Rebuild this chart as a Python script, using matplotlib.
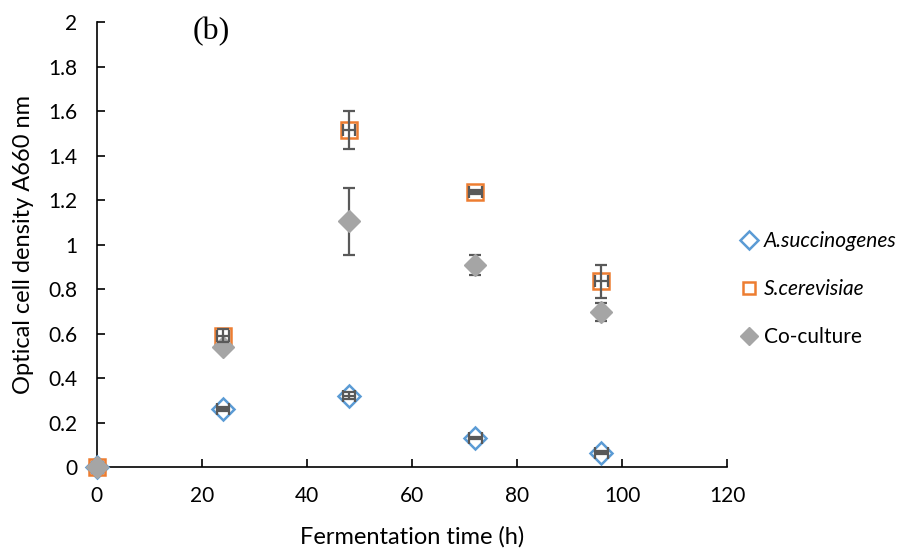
import numpy as np
import matplotlib.pyplot as plt

plt.rcParams['font.family'] = ['Lato', 'DejaVu Sans']

tempo = [0, 24, 48, 72, 96]

succ = [0.0, 0.26, 0.32, 0.13, 0.065]
succ_err = [0.0, 0.01, 0.015, 0.006, 0.006]

cere = [0.0, 0.59, 1.515, 1.235, 0.835]
cere_err = [0.0, 0.03, 0.085, 0.01, 0.075]

cocult = [0.0, 0.54, 1.105, 0.91, 0.695]
cocult_err = [0.0, 0.02, 0.15, 0.045, 0.04]

xerr = [0, 1.2, 1.2, 1.2, 1.2]

fig = plt.figure(figsize=(9.22, 5.52), dpi=100)
ax = fig.add_axes([0.105, 0.154, 0.684, 0.806])

cor_barra = '#595959'
barra = dict(fmt='none', ecolor=cor_barra, elinewidth=1.6, capsize=4, capthick=1.6)

# marcadores
ax.plot(tempo, succ, 'D', ms=11, mfc='white', mec='#5B9BD5', mew=1.8, label='A.succinogenes', zorder=3)
ax.plot(tempo, cere, 's', ms=12, mfc='none', mec='#ED7D31', mew=1.8, label='S.cerevisiae', zorder=4)
ax.plot(tempo, cocult, 'D', ms=11, mfc='#A5A5A5', mec='#A5A5A5', label='Co-culture', zorder=5)

# barras de erro por cima dos marcadores (sem o ponto 0)
ax.errorbar(tempo[1:], succ[1:], yerr=succ_err[1:], xerr=xerr[1:], zorder=6, **barra)
ax.errorbar(tempo[1:], cere[1:], yerr=cere_err[1:], xerr=xerr[1:], zorder=6, **barra)
ax.errorbar(tempo[1:], cocult[1:], yerr=cocult_err[1:], zorder=4.5, **barra)

ax.set_xlim(0, 120)
ax.set_ylim(0, 2)
ax.set_xticks(np.arange(0, 121, 20))
ax.set_yticks([0, 0.2, 0.4, 0.6, 0.8, 1, 1.2, 1.4, 1.6, 1.8, 2])
ax.set_yticklabels(['0', '0.2', '0.4', '0.6', '0.8', '1', '1.2', '1.4', '1.6', '1.8', '2'])
ax.tick_params(direction='in', length=6, width=1.2, labelsize=15)
ax.tick_params(axis='x', pad=14)
ax.tick_params(axis='y', pad=14)
ax.spines['top'].set_visible(False)
ax.spines['right'].set_visible(False)
ax.spines['left'].set_linewidth(1.2)
ax.spines['bottom'].set_linewidth(1.2)
for art in ax.get_children():
    art.set_clip_on(False)

ax.set_xlabel('Fermentation time (h)', fontsize=17, labelpad=14)
ax.set_ylabel('Optical cell density A660 nm', fontsize=17, labelpad=10)

ax.text(0.152, 1.012, '(b)', transform=ax.transAxes, fontsize=23, family='Liberation Serif', va='top')

leg = ax.legend(loc='center left', bbox_to_anchor=(0.985, 0.4), frameon=False,
                fontsize=15, handletextpad=0.1, labelspacing=1.35, handlelength=1.2)
leg.get_texts()[0].set_style('italic')
leg.get_texts()[1].set_style('italic')
for lh in leg.legend_handles:
    lh.set_markersize(9)

fig.savefig('out.png', dpi=100)
